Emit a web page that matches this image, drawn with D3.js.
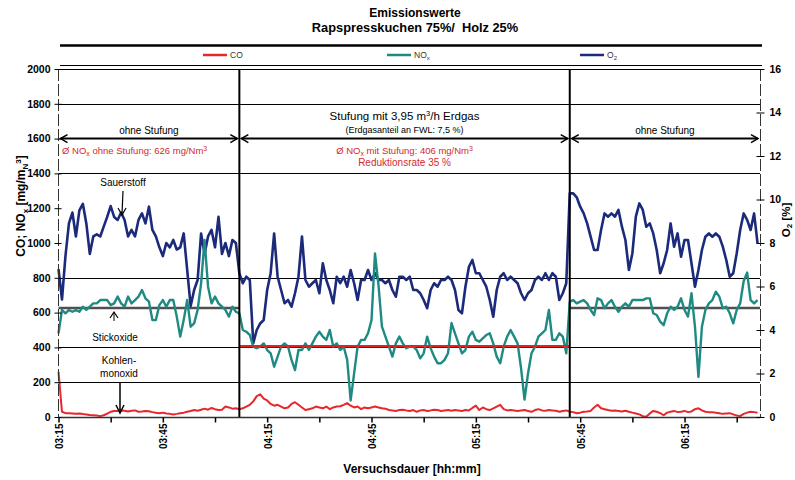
<!DOCTYPE html>
<html><head><meta charset="utf-8">
<script src="https://cdn.jsdelivr.net/npm/d3@7"></script>
<style>
body{margin:0;background:#fff;}
svg text{font-family:"Liberation Sans",Arial,sans-serif;}
</style></head>
<body><svg id="chart" width="795" height="480"></svg>
<script>
// ---------------- data ----------------
const titleLines = ["Emissionswerte", "Rapspresskuchen 75%/\u00A0 Holz 25%"];
const startHour = 3, startMinute = 15;           // time of minute 0
const endMinute = 201.7;                          // last minute on axis
const xTickMinutes = [0,15,30,45,60,75,90,105,120,135,150,165,180,195];
const xTickLabels = ["03:15","","03:45","","04:15","","04:45","","05:15","","05:45","","06:15",""];
const leftTicks = [0,200,400,600,800,1000,1200,1400,1600,1800,2000];
const rightTicks = [0,2,4,6,8,10,12,14,16];
const gridValues = [200,400,800,1400,1800,2000];
const phaseBounds = [0, 52, 147, 201.7];        // minutes: start, staging on, staging off, end
const avgNoxWithout = 626, avgNoxWith = 406;

// one value per minute from 03:15
const coValues = [
260,30,22,22,20,18,20,17,15,12,10,8,5,10,20,30,35,35,38,36,
32,36,38,30,32,35,33,28,24,22,25,20,18,15,18,22,25,30,35,40,
36,42,48,42,52,45,40,42,60,55,48,50,
45,50,60,70,90,120,130,105,95,75,65,70,60,50,55,75,85,70,55,40,
45,50,60,55,50,60,45,55,60,62,70,80,65,55,60,45,55,50,55,60,
55,50,48,40,38,35,40,42,38,35,40,
30,38,40,35,38,42,40,35,38,40,36,40,38,35,40,38,52,65,40,55,
45,40,50,60,70,45,38,40,38,35,38,40,35,30,40,45,38,36,40,38,
36,30,35,38,
30,28,22,25,30,32,35,55,70,50,45,40,36,38,35,32,36,30,25,20,
15,5,2,20,35,30,22,10,25,30,35,28,30,35,28,32,45,50,38,30,
28,28,25,22,18,20,22,15,8,5,18,25,30,28,25];
const noxValues = [
481,615,596,615,605,615,605,634,615,634,653,653,672,672,672,643,653,692,653,634,
692,653,672,692,730,682,663,557,557,643,672,634,672,672,577,462,557,672,519,538,
615,768,1017,749,653,692,653,634,615,577,634,605,
596,500,490,472,404,395,404,423,385,366,289,347,404,423,404,328,270,385,385,423,
385,423,462,490,462,443,500,404,423,385,404,330,95,251,404,443,443,481,557,940,
760,519,462,404,347,423,462,423,395,404,404,
385,337,366,462,395,347,309,309,328,366,540,481,423,366,385,462,490,443,433,452,
471,481,423,347,309,404,462,500,462,423,280,100,250,366,404,462,481,500,615,443,
443,481,462,366,
663,672,653,663,672,653,615,586,682,672,625,653,672,634,605,634,653,634,672,672,
672,672,682,682,596,586,548,528,596,634,615,634,682,615,577,711,519,230,519,615,
653,672,720,692,625,634,596,538,615,653,780,830,672,653,672];
const o2Values = [
6.8,5.4,7.4,8.9,9.4,8.3,9.5,9.8,8.9,7.5,8.3,8.4,8.3,8.75,9.2,9.7,9.2,9.06,9.4,9.06,
8.3,8.6,8.3,9.06,9.36,8.9,9.67,8.6,8.3,7.8,7.4,8.0,7.8,8.14,7.7,7.8,8.44,6.76,5.1,5.84,
6.3,8.44,7.5,8.3,8.6,7.8,9.2,7.5,8.0,7.4,8.14,8.0,
6.6,6.15,6.45,6.3,3.4,4.0,4.3,4.46,5.84,6.61,8.44,6.45,5.84,5.23,5.38,5.07,5.69,6.45,8.3,6.3,
5.99,6.15,6.3,5.69,7.07,6.3,5.84,5.23,6.45,6.15,6.45,5.99,6.76,6.15,5.38,6.3,6.3,6.76,6.3,6.61,
6.3,6.3,6.15,6.3,5.84,5.53,6.45,6.45,6.3,6.45,5.84,
5.84,5.69,5.38,5.0,5.84,6.15,5.99,6.3,6.3,6.45,6.3,5.84,4.92,4.77,5.99,6.9,7.22,6.61,6.61,6.3,
5.99,5.38,4.61,5.84,6.45,6.61,6.3,6.45,6.3,6.15,5.69,5.38,5.69,5.84,6.3,6.45,6.3,6.61,6.3,6.61,
6.45,5.38,5.69,6.15,
10.28,10.28,10.1,9.67,9.36,8.9,8.29,7.68,7.68,8.6,9.36,9.21,9.36,9.21,9.52,8.75,8.14,6.76,7.52,9.21,
9.82,9.52,8.75,8.9,8.44,7.68,6.61,7.07,7.68,8.9,7.83,8.44,7.37,8.14,8.14,7.07,5.99,6.76,7.68,8.29,
8.44,8.29,8.44,8.29,7.83,7.22,6.45,6.61,7.52,8.6,9.36,9.06,8.6,9.36,7.98];

const seriesNames = ["CO","NOx","O2"];
const seriesColors = ["#e8262b","#1e8a82","#1b2a7a"];

// ---------------- drawing ----------------
const svg = d3.select("#chart");
const x = d3.scaleLinear().domain([0, endMinute]).range([58.5, 760]);
const yL = d3.scaleLinear().domain([0, 2000]).range([417, 69]);
const yR = d3.scaleLinear().domain([0, 16]).range([417, 69]);
const FONT = '"Liberation Sans",Arial,sans-serif';

// title
svg.selectAll("text.title").data(titleLines).join("text")
  .attr("x", 415).attr("y", (d,i)=>17+i*14.5).attr("text-anchor","middle")
  .attr("font-size",(d,i)=>i?12.8:12).attr("font-weight","bold").text(d=>d);

// legend frame
svg.append("line").attr("x1",60).attr("x2",762).attr("y1",45.5).attr("y2",45.5).attr("stroke","#000").attr("stroke-width",2.5);
svg.append("line").attr("x1",60).attr("x2",762).attr("y1",65.5).attr("y2",65.5).attr("stroke","#000").attr("stroke-width",1);
const legendX = [203, 387, 580];
seriesNames.forEach((n,i)=>{
  svg.append("line").attr("x1",legendX[i]).attr("x2",legendX[i]+24).attr("y1",55).attr("y2",55)
    .attr("stroke",seriesColors[i]).attr("stroke-width",2.5);
  const t = svg.append("text").attr("x",legendX[i]+27).attr("y",58).attr("font-size",8.5).attr("fill","#333");
  if(n==="NOx"){ t.text("NO"); t.append("tspan").attr("font-size",6).attr("dy",2).text("x"); }
  else if(n==="O2"){ t.text("O"); t.append("tspan").attr("font-size",6).attr("dy",2).text("2"); }
  else t.text(n);
});

// grid lines
svg.selectAll("line.grid").data(gridValues).join("line")
  .attr("x1",58.5).attr("x2",760).attr("y1",d=>Math.round(yL(d))+0.5).attr("y2",d=>Math.round(yL(d))+0.5)
  .attr("stroke","#000").attr("stroke-width",1);

// average lines
svg.append("line").attr("x1",x(phaseBounds[0])).attr("x2",x(phaseBounds[1])).attr("y1",yL(avgNoxWithout)).attr("y2",yL(avgNoxWithout)).attr("stroke","#505050").attr("stroke-width",2.5);
svg.append("line").attr("x1",x(phaseBounds[2])).attr("x2",x(phaseBounds[3])).attr("y1",yL(avgNoxWithout)).attr("y2",yL(avgNoxWithout)).attr("stroke","#505050").attr("stroke-width",2.5);

// series lines
const lineL = d3.line().x((d,i)=>x(i)).y(d=>yL(d));
const lineR = d3.line().x((d,i)=>x(i)).y(d=>yR(d));
svg.append("path").datum(o2Values).attr("d",lineR).attr("fill","none").attr("stroke",seriesColors[2]).attr("stroke-width",2.6).attr("stroke-linejoin","round");
svg.append("path").datum(noxValues).attr("d",lineL).attr("fill","none").attr("stroke",seriesColors[1]).attr("stroke-width",2.4).attr("stroke-linejoin","round");
svg.append("path").datum(coValues).attr("d",lineL).attr("fill","none").attr("stroke",seriesColors[0]).attr("stroke-width",2).attr("stroke-linejoin","round");

svg.append("line").attr("x1",x(phaseBounds[1])).attr("x2",x(phaseBounds[2])).attr("y1",yL(avgNoxWith)).attr("y2",yL(avgNoxWith)).attr("stroke","#e02424").attr("stroke-width",2.5);

// phase dividers
[phaseBounds[1], phaseBounds[2]].forEach(m=>{
  svg.append("line").attr("x1",x(m)).attr("x2",x(m)).attr("y1",69).attr("y2",417).attr("stroke","#000").attr("stroke-width",2);
});

// axes lines
svg.append("line").attr("x1",58.5).attr("x2",58.5).attr("y1",69).attr("y2",417).attr("stroke","#333").attr("stroke-dasharray","12,3");
svg.append("line").attr("x1",760.5).attr("x2",760.5).attr("y1",69).attr("y2",417).attr("stroke","#333").attr("stroke-dasharray","12,3");
svg.append("line").attr("x1",58.5).attr("x2",760.5).attr("y1",417.5).attr("y2",417.5).attr("stroke","#333").attr("stroke-width",1.5);

// left axis
const gl = svg.append("g").attr("transform","translate(58.5,0)")
  .call(d3.axisLeft(yL).tickValues(leftTicks).tickSize(4).tickFormat(d3.format("d")));
gl.select(".domain").remove();
gl.selectAll(".tick line").attr("x2",-4).attr("x1",3).attr("stroke","#000");
gl.selectAll(".tick text").attr("x",-8).attr("font-size",10.5).attr("font-weight","bold").attr("font-family",FONT).attr("fill","#000");

// right axis
const gr = svg.append("g").attr("transform","translate(760.5,0)")
  .call(d3.axisRight(yR).tickValues(rightTicks).tickSize(4).tickFormat(d3.format("d")));
gr.select(".domain").remove();
gr.selectAll(".tick line").attr("x1",-4).attr("x2",4).attr("stroke","#000");
gr.selectAll(".tick text").attr("x",9).attr("font-size",10.5).attr("font-weight","bold").attr("font-family",FONT).attr("fill","#000");

// x axis
const gx = svg.append("g").attr("transform","translate(0,417.5)")
  .call(d3.axisBottom(x).tickValues(xTickMinutes).tickSize(5).tickFormat((d,i)=>xTickLabels[i]));
gx.select(".domain").remove();
gx.selectAll(".tick line").attr("stroke","#000").attr("stroke-width",1.5);
gx.selectAll(".tick text").attr("font-size",10).attr("font-weight","bold").attr("font-family",FONT).attr("fill","#000")
  .attr("text-anchor","end").attr("dy",0).attr("y",0)
  .attr("transform","translate(4,6) rotate(-90)");

// axis titles
const lt = svg.append("text").attr("transform","translate(25,206) rotate(-90)").attr("text-anchor","middle")
  .attr("font-size",12).attr("font-weight","bold");
lt.append("tspan").text("CO; NO");
lt.append("tspan").attr("font-size",8).attr("dy",3).text("x");
lt.append("tspan").attr("dy",-3).text(" [mg/m");
lt.append("tspan").attr("font-size",8).attr("dy",3).text("N");
lt.append("tspan").attr("font-size",8).attr("dy",-7).text("3");
lt.append("tspan").attr("dy",4).text("]");

const rt = svg.append("text").attr("transform","translate(790,220) rotate(-90)").attr("text-anchor","middle")
  .attr("font-size",11.5).attr("font-weight","bold");
rt.append("tspan").text("O");
rt.append("tspan").attr("font-size",8).attr("dy",2).text("2");
rt.append("tspan").attr("dy",-2).text(" [%]");

svg.append("text").attr("x",412).attr("y",473).attr("text-anchor","middle").attr("font-size",12).attr("font-weight","bold")
  .text("Versuchsdauer [hh:mm]");

// phase arrows
const arrowY = yL(1600);
for(let p=0;p<3;p++){
  const a = x(phaseBounds[p])+2, b = x(phaseBounds[p+1])-2;
  svg.append("line").attr("x1",a).attr("x2",b).attr("y1",arrowY).attr("y2",arrowY).attr("stroke","#000").attr("stroke-width",2);
  svg.append("path").attr("d",`M${a+7},${arrowY-4}L${a},${arrowY}L${a+7},${arrowY+4}`).attr("fill","none").attr("stroke","#000").attr("stroke-width",1.5);
  svg.append("path").attr("d",`M${b-7},${arrowY-4}L${b},${arrowY}L${b-7},${arrowY+4}`).attr("fill","none").attr("stroke","#000").attr("stroke-width",1.5);
}
const midA = (x(phaseBounds[0])+x(phaseBounds[1]))/2;
const midB = (x(phaseBounds[1])+x(phaseBounds[2]))/2;
const midC = (x(phaseBounds[2])+x(phaseBounds[3]))/2;
svg.append("text").attr("x",midA).attr("y",134).attr("text-anchor","middle").attr("font-size",10).text("ohne Stufung");
svg.append("text").attr("x",midC).attr("y",134).attr("text-anchor","middle").attr("font-size",10).text("ohne Stufung");
const st = svg.append("text").attr("x",midB).attr("y",120).attr("text-anchor","middle").attr("font-size",11.5);
st.append("tspan").text("Stufung mit 3,95 m");
st.append("tspan").attr("font-size",7.5).attr("dy",-4).text("3");
st.append("tspan").attr("dy",4).text("/h Erdgas");
svg.append("text").attr("x",midB).attr("y",133).attr("text-anchor","middle").attr("font-size",9).text("(Erdgasanteil an FWL: 7,5 %)");

const red = "#d3292b";
function avgLabel(xp, anchor, y, txt1, val){
  const t = svg.append("text").attr("x",xp).attr("y",y).attr("text-anchor",anchor).attr("font-size",9.5).attr("fill",red);
  t.append("tspan").text("Ø NO");
  t.append("tspan").attr("font-size",7).attr("dy",2).text("x");
  t.append("tspan").attr("dy",-2).text(" " + txt1 + ": " + val + " mg/Nm");
  t.append("tspan").attr("font-size",7).attr("dy",-3).text("3");
}
avgLabel(62, "start", 154, "ohne Stufung", avgNoxWithout);
avgLabel(midB, "middle", 154, "mit Stufung", avgNoxWith);
svg.append("text").attr("x",midB).attr("y",166).attr("text-anchor","middle").attr("font-size",10).attr("fill",red)
  .text("Reduktionsrate " + Math.round((1-avgNoxWith/avgNoxWithout)*100) + " %");

// series annotations
svg.append("text").attr("x",123).attr("y",186).attr("text-anchor","middle").attr("font-size",10).text("Sauerstoff");
svg.append("line").attr("x1",123).attr("x2",122).attr("y1",191).attr("y2",214).attr("stroke","#000").attr("stroke-width",1.2);
svg.append("path").attr("d","M118,208L122,215L126,208").attr("fill","none").attr("stroke","#000").attr("stroke-width",1.2);

svg.append("text").attr("x",115).attr("y",341).attr("text-anchor","middle").attr("font-size",10).text("Stickoxide");
svg.append("path").attr("d","M110,318L114,312L118,318").attr("fill","none").attr("stroke","#000").attr("stroke-width",1.2);
svg.append("line").attr("x1",114).attr("x2",114).attr("y1",313).attr("y2",321).attr("stroke","#000").attr("stroke-width",1);

svg.append("text").attr("x",119).attr("y",364).attr("text-anchor","middle").attr("font-size",10).text("Kohlen-");
svg.append("text").attr("x",119).attr("y",377).attr("text-anchor","middle").attr("font-size",10).text("monoxid");
svg.append("line").attr("x1",120).attr("x2",120).attr("y1",383).attr("y2",412).attr("stroke","#000").attr("stroke-width",1.5);
svg.append("path").attr("d","M116,405L120,413L124,405").attr("fill","none").attr("stroke","#000").attr("stroke-width",1.5);
</script></body></html>
